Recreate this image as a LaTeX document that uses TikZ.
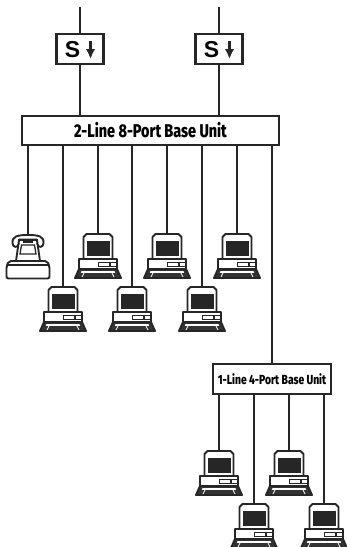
\documentclass[tikz,border=0pt]{standalone}
\usepackage{fontspec}
\usetikzlibrary{arrows.meta}
\setmainfont{Liberation Sans}
\newfontfamily\narrowfont[FakeStretch=0.78,UprightFont=* ExtraBold]{Fira Sans}

\tikzset{
  wire/.style={line width=2.8pt,draw=black!85},
  box/.style={draw=black!85,line width=2.8pt,fill=white,inner sep=0pt},
  sarrow/.style={line width=2.4pt,black!85,-{Latex[length=10pt,width=9.5pt]}},
  outline/.style={draw=black!85,line width=1.9pt,line join=round},
  pics/computer/.style={code={
    \coordinate (-top) at (0,0);
    % keyboard
    \filldraw[outline,fill=black!80] (-19,35) -- (19,35) -- (23,44) -- (-23,44) -- cycle;
    \fill[white] (-16.5,37.2) -- (16.5,37.2) -- (17.2,38.8) -- (-17.2,38.8) -- cycle;
    \draw[white,line width=.8pt] (-14,39) -- (-16,43) (14,39) -- (16,43);
    % cabinet
    \filldraw[outline,fill=white] (-19,25) -- (19,25) -- (19,35) -- (-19,35) -- cycle;
    \draw[black!85,line width=1pt] (0,28.5) rectangle (18,32.5);
    \fill[black!85] (10.5,28.5) rectangle (12.5,32.5);
    % monitor
    \filldraw[outline,fill=white] (-14.5,25) -- (-14.5,3) -- (-11.5,0) -- (11.5,0) -- (14.5,3) -- (14.5,25) -- cycle;
    \fill[black!85] (-11,6.5) rectangle (11.5,21.5);
  }},
  pics/telephone/.style={code={
    \coordinate (-top) at (0,0);
    % body
    \filldraw[outline,fill=white] (-9,5) -- (9,5) -- (12,26) -- (-12,26) -- cycle;
    \draw[black!85,line width=1.3pt] (-6.5,10) -- (6.5,10) -- (8,19) -- (-8,19) -- cycle;
    \fill[black!85] (-5,4.5) rectangle (5,8);
    % handset
    \filldraw[outline,fill=white] (-15.5,8) .. controls (-16,1) and (-10,0) .. (0,0) .. controls (10,0) and (16,1) .. (15.5,8) .. controls (15.5,13) and (10,13) .. (9.5,9) -- (9,4.5) -- (-9,4.5) -- (-9.5,9) .. controls (-10,13) and (-15.5,13) .. (-15.5,8) -- cycle;
    % base
    \filldraw[outline,fill=white,rounded corners=2pt] (-21.5,31) -- (-19,26) -- (19,26) -- (21.5,31) -- (21.5,43.5) -- (-21.5,43.5) -- cycle;
    \draw[black!85,line width=1.2pt] (-20,30) -- (20,30);
  }}
}

\begin{document}
\begin{tikzpicture}[x=1pt,y=-1pt]
  \useasboundingbox (0,0) rectangle (346,547);

  \node[box,minimum width=47pt,minimum height=30pt] (s1) at (80,49) {};
  \node[box,minimum width=47pt,minimum height=30pt] (s2) at (219,49) {};
  \node[font=\bfseries\fontsize{23}{23}\selectfont,inner sep=0pt] (s1t) at (72.5,49.5) {S};
  \node[font=\bfseries\fontsize{23}{23}\selectfont,inner sep=0pt] (s2t) at (211.5,49.5) {S};
  \coordinate (s1a) at (90.5,41);
  \coordinate (s1b) at (90.5,59);
  \coordinate (s2a) at (229.5,41);
  \coordinate (s2b) at (229.5,59);
  \draw[sarrow] (s1a) -- (s1b);
  \draw[sarrow] (s2a) -- (s2b);

  \node[box,minimum width=257pt,minimum height=29pt,font=\narrowfont\fontsize{18.5}{19}\selectfont] (base8) at (150.5,130.5) {2-Line 8-Port Base Unit};
  \node[box,minimum width=118pt,minimum height=30pt,font=\narrowfont\fontsize{13.2}{14}\selectfont] (base4) at (272,379) {1-Line 4-Port Base Unit};

  \coordinate (in1) at (80,7);
  \coordinate (in2) at (219,7);
  \draw[wire] (in1) -- (s1.north);
  \draw[wire] (in2) -- (s2.north);
  \draw[wire] (s1.south) -- (s1 |- base8.north);
  \draw[wire] (s2.south) -- (s2 |- base8.north);

  \pic (phone) at (28,235) {telephone};
  \foreach \name/\xpos/\ypos in {pca/63/287,pcb/98/234,pcc/132/287,pcd/167/234,pce/202/287,pcf/237/234}{
    \pic (\name) at (\xpos,\ypos) {computer};
    \draw[wire] (\name-top |- base8.south) -- (\name-top);
  }
  \draw[wire] (phone-top |- base8.south) -- (phone-top);
  \draw[wire] (base4.north |- base8.south) -- (base4.north);

  \foreach \name/\xpos/\ypos in {pcg/219/451,pch/254/504,pci/289/451,pcj/324/504}{
    \pic (\name) at (\xpos,\ypos) {computer};
    \draw[wire] (\name-top |- base4.south) -- (\name-top);
  }
\end{tikzpicture}
\end{document}
